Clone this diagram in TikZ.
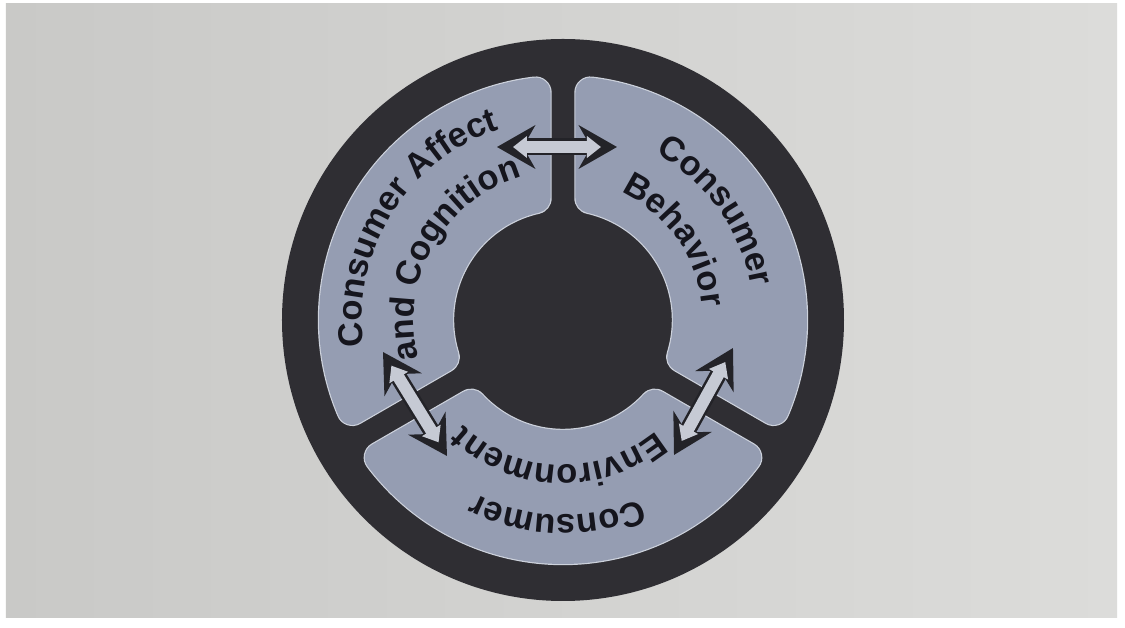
\documentclass[tikz,border=0pt]{standalone}
\usepackage{fontspec}
\setmainfont{Liberation Sans}
\usetikzlibrary{decorations.text,arrows.meta}
\definecolor{pageL}{HTML}{C9C9C7}
\definecolor{pageR}{HTML}{DCDCDA}
\definecolor{disc}{HTML}{2F2E33}
\definecolor{seg}{HTML}{959DB2}
\definecolor{seghl}{HTML}{CDD2DC}
\definecolor{ink}{HTML}{15151D}
\definecolor{arrdark}{HTML}{232328}
\definecolor{arrlight}{HTML}{C6CAD4}
\newcommand\segfont{\bfseries\fontsize{34.5}{40}\selectfont}
\begin{document}
\begin{tikzpicture}[x=1pt,y=1pt,
  seghalo/.style={draw=seghl, line width=32.4pt, line join=round},
  segbody/.style={draw=seg, fill=seg, line width=30pt, line join=round},
  arclabel/.style={decorate, decoration={text along path, text align=center, text color=ink, text={|\segfont|#1}}},
  arrowback/.style={draw=arrdark, line width=17pt, {Stealth[length=38pt,width=43pt,inset=12pt]}-{Stealth[length=38pt,width=43pt,inset=12pt]}},
  arrowfront/.style={draw=arrlight, line width=12pt, shorten <=16pt, shorten >=16pt, {Triangle[length=14pt,width=21pt]}-{Triangle[length=14pt,width=21pt]}}
]
\useasboundingbox (-563,-308) rectangle (562,320);
\fill[white] (-563,-308) rectangle (562,320);
\shade[left color=pageL, right color=pageR] (-557,-298) rectangle (554,316);
% dark disc
\fill[disc] (0,0) circle[radius=281];
% three segments
\foreach \a/\b in {90/210, 210/330, -30/90}{
  \path[seghalo] ({\a+asin(27.5/229)}:229) arc[start angle={\a+asin(27.5/229)}, end angle={\b-asin(27.5/229)}, radius=229]
     -- ({\b-asin(27.5/125)}:125) arc[start angle={\b-asin(27.5/125)}, end angle={\a+asin(27.5/125)}, radius=125] -- cycle;
  \path[segbody] ({\a+asin(27.5/229)}:229) arc[start angle={\a+asin(27.5/229)}, end angle={\b-asin(27.5/229)}, radius=229]
     -- ({\b-asin(27.5/125)}:125) arc[start angle={\b-asin(27.5/125)}, end angle={\a+asin(27.5/125)}, radius=125] -- cycle;
}
% labels
\path[arclabel={Consumer Affect}] (208:201) arc[start angle=208, end angle=88, radius=201];
\path[arclabel={and Cognition}] (210.5:149) arc[start angle=210.5, end angle=90.5, radius=149];
\path[arclabel={Consumer}] (95.5:191) arc[start angle=95.5, end angle=-24.5, radius=191];
\path[arclabel={Behavior}] (95.4:140) arc[start angle=95.4, end angle=-24.6, radius=140];
\path[arclabel={Consumer}] (-31.6:195) arc[start angle=-31.6, end angle=-151.6, radius=195];
\path[arclabel={Environment}] (-31.8:145) arc[start angle=-31.8, end angle=-151.8, radius=145];
% arrows
\coordinate (tl) at (-66,173);
\coordinate (tr) at (54,173);
\coordinate (ll1) at (-180,-32);
\coordinate (ll2) at (-116,-136);
\coordinate (lr1) at (170,-28);
\coordinate (lr2) at (111,-135);
\foreach \p/\q in {tl/tr, ll1/ll2, lr1/lr2}{
  \draw[arrowback] (\p) -- (\q);
  \draw[arrowfront] (\p) -- (\q);
}
\end{tikzpicture}
\end{document}
